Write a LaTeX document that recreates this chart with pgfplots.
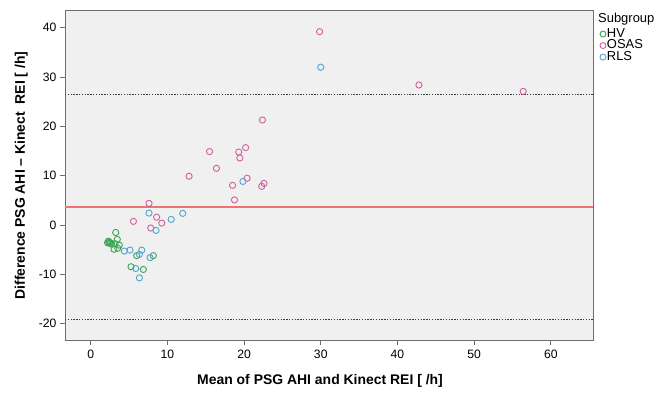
\documentclass[border=0pt]{standalone}
\usepackage{pgfplots}
\pgfplotsset{compat=1.18}
\usepackage{fontspec}
\setmainfont{Liberation Sans}
\definecolor{HVc}{RGB}{60,165,85}
\definecolor{OSASc}{RGB}{210,95,155}
\definecolor{RLSc}{RGB}{80,165,205}
\definecolor{bgc}{RGB}{240,240,240}
\definecolor{framec}{RGB}{110,110,110}
\definecolor{meanc}{RGB}{240,115,115}
\definecolor{loac}{RGB}{60,60,60}
\begin{document}
\begin{tikzpicture}
\useasboundingbox (0,0) rectangle (656bp,397bp);
\begin{axis}[
  at={(65bp,57bp)}, anchor=south west,
  scale only axis, width=528bp, height=329bp,
  xmin=-3.35, xmax=65.5, ymin=-23.3, ymax=43.4,
  xtick={0,10,...,60}, ytick={-20,-10,...,40},
  xtick pos=bottom, ytick pos=left,
  tick align=outside, major tick length=5bp,
  tick style={framec, line width=0.8bp},
  axis line style={framec, line width=1bp},
  axis background/.style={fill=bgc},
  /pgf/number format/assume math mode=true,
  ticklabel style={font=\fontsize{12.2}{14}\selectfont},
  xticklabel style={yshift=-1bp},
  xlabel={\textbf{Mean of PSG AHI and Kinect REI [ /h]}},
  ylabel={\textbf{Difference PSG AHI – Kinect\ \ REI [ /h]}},
  label style={font=\fontsize{14}{16}\selectfont},
  xlabel style={at={(axis description cs:0.483,-0.124)}, anchor=center},
  ylabel style={at={(axis description cs:-0.083,0.5)}, anchor=center},
  clip=false,
  legend style={draw=none, fill=none, at={(axis description cs:1.012,0.948)}, anchor=north west,
    inner sep=0pt, row sep=0pt, font=\fontsize{13}{13}\selectfont,
    nodes={inner sep=0.5bp, text height=8.5bp, text depth=2bp}},
  legend cell align=left,
  /tikz/every even column/.style={column sep=0pt},
]
\addplot[meanc, line width=1.2bp, forget plot] coordinates {(-3.35,3.65) (65.5,3.65)};
\addplot[loac, line width=1.1bp, dash pattern=on 1.4bp off 1.4bp, forget plot] coordinates {(-3.35,26.4) (65.5,26.4)};
\addplot[loac, line width=1.1bp, dash pattern=on 1.4bp off 1.4bp, forget plot] coordinates {(-3.35,-19.1) (65.5,-19.1)};
\addplot[only marks, mark=o, mark size=3.1bp, mark options={draw=HVc, line width=0.9bp},
  legend image code/.code={\draw[HVc, line width=0.9bp] (3bp,0bp) circle (3bp);}]
coordinates {
(3.26,-1.5) (2.3,-3.25) (2.48,-3.7) (2.74,-3.9) (3.17,-3.8) (3.47,-2.9)
(3.73,-4.06) (3.52,-4.7) (3.04,-4.9) (2.4,-3.5) (2.6,-3.6) (2.2,-3.6)
(6.0,-6.2) (8.17,-6.2) (5.26,-8.45) (6.87,-9.0)
};
\addlegendentry{HV}
\addplot[only marks, mark=o, mark size=3.1bp, mark options={draw=OSASc, line width=0.9bp},
  legend image code/.code={\draw[OSASc, line width=0.9bp] (3bp,0bp) circle (3bp);}]
coordinates {
(5.57,0.75) (7.61,4.4) (8.6,1.6) (9.27,0.4) (7.83,-0.6) (12.83,9.9)
(15.5,14.9) (16.4,11.5) (18.5,8.05) (18.75,5.1) (19.3,14.8) (19.45,13.6)
(20.2,15.7) (20.4,9.5) (22.3,7.85) (22.6,8.45) (22.4,21.3) (29.85,39.2)
(42.8,28.4) (56.4,27.1)
};
\addlegendentry{OSAS}
\addplot[only marks, mark=o, mark size=3.1bp, mark options={draw=RLSc, line width=0.9bp},
  legend image code/.code={\draw[RLSc, line width=0.9bp] (3bp,0bp) circle (3bp);}]
coordinates {
(4.39,-5.27) (5.13,-5.07) (6.66,-5.07) (6.35,-5.95) (7.74,-6.6) (5.87,-8.8)
(6.35,-10.7) (7.61,2.43) (8.52,-1.08) (10.5,1.15) (12.0,2.37) (19.85,8.85)
(30.0,32.0)
};
\addlegendentry{RLS}
\end{axis}
\node[anchor=base west, inner sep=0pt, font=\fontsize{13}{13}\selectfont] at (598bp,374.3bp) {Subgroup};
\end{tikzpicture}
\end{document}
